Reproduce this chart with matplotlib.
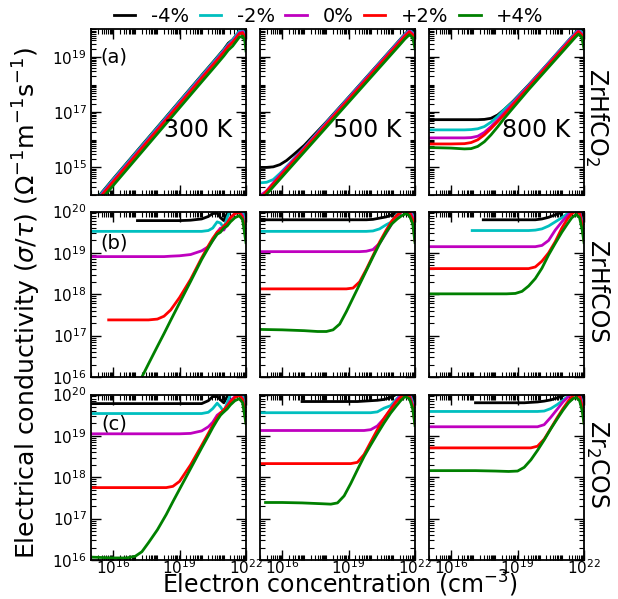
import numpy as np
import matplotlib
matplotlib.use("Agg")
import matplotlib.pyplot as plt
from matplotlib.ticker import FixedLocator, LogLocator, NullFormatter

nan = np.nan

# strain labels and line colours (one curve per strain)
strains = ['-4%', '-2%', '0%', '+2%', '+4%']
colors = ['k', 'c', 'm', 'r', 'g']

# ---- ZrHfCO2 : log10(n) grid and log10(sigma/tau) per strain ----
logn_CO2_300 = [15.0, 16.0, 17.0, 18.0, 19.0, 20.0, 20.6, 21.0, 21.2, 21.4, 21.55, 21.7, 21.85, 21.95, 22.0]
sig_CO2_300 = [
    [13.62, 14.58, 15.52, 16.46, 17.40, 18.34, 18.90, 19.28, 19.50, 19.63, 19.78, 19.92, 19.96, 19.80, 19.50],
    [13.60, 14.56, 15.50, 16.44, 17.38, 18.32, 18.88, 19.26, 19.46, 19.62, 19.78, 19.94, 19.98, 19.82, 19.55],
    [13.56, 14.51, 15.45, 16.39, 17.33, 18.27, 18.83, 19.21, 19.42, 19.57, 19.72, 19.88, 19.92, 19.75, 19.45],
    [13.52, 14.47, 15.41, 16.35, 17.29, 18.23, 18.79, 19.17, 19.38, 19.53, 19.68, 19.84, 19.88, 19.70, 19.40],
    [13.40, 14.34, 15.28, 16.22, 17.16, 18.10, 18.66, 19.04, 19.25, 19.40, 19.56, 19.72, 19.76, 19.58, 19.22],
]

logn_CO2_500 = [15.0, 15.3, 15.6, 15.9, 16.2, 16.5, 17.0, 18.0, 19.0, 20.0, 20.6, 21.0, 21.3, 21.55, 21.75, 21.9, 22.0]
sig_CO2_500 = [
    [15.00, 15.00, 15.02, 15.10, 15.25, 15.45, 15.80, 16.65, 17.54, 18.44, 18.98, 19.34, 19.61, 19.84, 19.98, 19.88, 19.50],
    [14.44, 14.46, 14.56, 14.78, 15.03, 15.28, 15.72, 16.63, 17.53, 18.43, 18.97, 19.33, 19.60, 19.83, 19.99, 19.88, 19.50],
    [13.97, 14.15, 14.44, 14.72, 14.99, 15.26, 15.70, 16.60, 17.50, 18.40, 18.94, 19.30, 19.57, 19.80, 19.95, 19.84, 19.45],
    [13.86, 14.13, 14.40, 14.67, 14.94, 15.21, 15.66, 16.56, 17.46, 18.36, 18.90, 19.26, 19.53, 19.76, 19.91, 19.80, 19.40],
    [13.76, 14.03, 14.30, 14.57, 14.84, 15.11, 15.56, 16.46, 17.36, 18.26, 18.80, 19.16, 19.43, 19.66, 19.81, 19.70, 19.30],
]

logn_CO2_800 = [15.0, 16.0, 16.6, 16.9, 17.2, 17.5, 17.8, 18.1, 18.4, 18.8, 19.5, 20.3, 21.0, 21.4, 21.6, 21.75, 21.9, 22.0]
sig_CO2_800 = [
    [16.73, 16.73, 16.73, 16.73, 16.73, 16.74, 16.78, 16.90, 17.10, 17.40, 17.99, 18.70, 19.33, 19.69, 19.87, 19.99, 19.88, 19.50],
    [16.36, 16.36, 16.36, 16.37, 16.40, 16.48, 16.64, 16.85, 17.10, 17.38, 17.98, 18.70, 19.33, 19.69, 19.87, 20.00, 19.90, 19.50],
    [16.07, 16.07, 16.07, 16.08, 16.13, 16.27, 16.48, 16.72, 16.98, 17.33, 17.95, 18.67, 19.30, 19.66, 19.84, 19.96, 19.84, 19.45],
    [15.85, 15.85, 15.86, 15.90, 16.00, 16.18, 16.41, 16.66, 16.92, 17.28, 17.91, 18.63, 19.26, 19.62, 19.80, 19.92, 19.80, 19.40],
    [15.72, 15.70, 15.67, 15.68, 15.76, 15.93, 16.18, 16.47, 16.78, 17.16, 17.82, 18.54, 19.17, 19.53, 19.71, 19.83, 19.72, 19.30],
]

# ---- ZrHfCOS ----
logn_COS_300 = [15.0, 15.8, 16.5, 17.1, 17.3, 17.6, 18.0, 18.3, 18.6, 19.0, 19.5, 20.0, 20.3, 20.5, 20.7, 20.85, 21.0, 21.15, 21.3, 21.5, 21.7, 21.85, 22.0]
sig_COS_300 = [
    [nan, nan, nan, 19.78, 19.78, 19.78, 19.78, 19.78, 19.78, 19.78, 19.79, 19.82, 19.88, 19.95, 19.96, 19.85, 19.78, 19.95, 20.10, 20.20, 20.20, 20.05, 19.45],
    [19.52, 19.52, 19.52, 19.52, 19.52, 19.52, 19.52, 19.52, 19.52, 19.52, 19.52, 19.52, 19.54, 19.60, 19.75, 19.72, 19.60, 19.85, 20.05, 20.15, 20.20, 20.05, 19.45],
    [18.91, 18.91, 18.91, 18.91, 18.91, 18.91, 18.91, 18.91, 18.92, 18.93, 18.96, 19.05, 19.15, 19.30, 19.50, 19.60, 19.55, 19.70, 19.85, 19.95, 20.00, 19.90, 19.40],
    [nan, 17.38, 17.38, 17.38, 17.38, 17.38, 17.40, 17.47, 17.62, 17.92, 18.36, 18.88, 19.17, 19.35, 19.50, 19.55, 19.65, 19.72, 19.85, 19.95, 19.98, 19.85, 19.35],
    [13.50, 14.35, 15.10, 15.75, 16.00, 16.32, 16.74, 17.05, 17.37, 17.79, 18.31, 18.84, 19.12, 19.30, 19.45, 19.50, 19.60, 19.65, 19.75, 19.85, 19.90, 19.80, 19.25],
]

logn_COS_500 = [15.0, 16.0, 17.0, 17.6, 18.0, 18.3, 18.6, 18.9, 19.2, 19.5, 19.8, 20.1, 20.4, 20.7, 20.95, 21.2, 21.4, 21.6, 21.75, 21.9, 22.0]
sig_COS_500 = [
    [19.80, 19.80, 19.80, 19.80, 19.80, 19.80, 19.80, 19.80, 19.80, 19.80, 19.80, 19.81, 19.84, 19.87, 19.92, 19.98, 20.10, 20.20, 20.15, 19.95, 19.40],
    [19.52, 19.52, 19.52, 19.52, 19.52, 19.52, 19.52, 19.52, 19.52, 19.52, 19.52, 19.53, 19.58, 19.68, 19.75, 19.95, 20.10, 20.15, 20.10, 19.90, 19.35],
    [19.03, 19.03, 19.03, 19.03, 19.03, 19.03, 19.03, 19.03, 19.03, 19.03, 19.04, 19.08, 19.23, 19.48, 19.70, 19.88, 20.00, 20.10, 20.05, 19.85, 19.30],
    [18.13, 18.13, 18.13, 18.13, 18.13, 18.13, 18.13, 18.13, 18.15, 18.30, 18.60, 18.93, 19.26, 19.55, 19.77, 19.92, 20.00, 20.02, 19.98, 19.80, 19.30],
    [17.15, 17.14, 17.12, 17.10, 17.10, 17.14, 17.28, 17.58, 17.91, 18.24, 18.57, 18.90, 19.22, 19.50, 19.70, 19.82, 19.90, 19.95, 19.90, 19.70, 19.25],
]

logn_COS_800 = [15.0, 16.0, 16.95, 17.45, 18.0, 18.5, 18.9, 19.2, 19.5, 19.8, 20.1, 20.4, 20.7, 21.0, 21.25, 21.45, 21.65, 21.8, 21.92, 22.0]
sig_COS_800 = [
    [nan, nan, nan, 19.80, 19.80, 19.80, 19.80, 19.80, 19.80, 19.80, 19.82, 19.86, 19.92, 19.98, 20.05, 20.10, 20.15, 20.05, 19.80, 19.45],
    [nan, nan, 19.54, 19.54, 19.54, 19.54, 19.54, 19.54, 19.54, 19.55, 19.58, 19.65, 19.75, 19.85, 19.95, 20.05, 20.10, 20.00, 19.75, 19.40],
    [19.15, 19.15, 19.15, 19.15, 19.15, 19.15, 19.15, 19.15, 19.15, 19.15, 19.18, 19.30, 19.55, 19.75, 19.90, 20.00, 20.08, 20.00, 19.70, 19.35],
    [18.62, 18.62, 18.62, 18.62, 18.62, 18.62, 18.62, 18.62, 18.62, 18.66, 18.80, 19.00, 19.27, 19.60, 19.82, 19.95, 20.02, 19.95, 19.65, 19.30],
    [18.01, 18.01, 18.01, 18.01, 18.01, 18.01, 18.02, 18.07, 18.20, 18.38, 18.63, 18.95, 19.23, 19.50, 19.70, 19.85, 19.93, 19.85, 19.55, 19.25],
]

# ---- Zr2COS ----
logn_Zr2_300 = [15.0, 15.5, 16.0, 16.6, 17.0, 17.3, 17.6, 18.0, 18.4, 18.7, 19.0, 19.5, 20.0, 20.3, 20.5, 20.7, 20.85, 21.0, 21.15, 21.3, 21.5, 21.7, 21.85, 22.0]
sig_Zr2_300 = [
    [19.78, 19.78, 19.78, 19.78, 19.78, 19.78, 19.78, 19.78, 19.78, 19.78, 19.78, 19.78, 19.78, 19.85, 19.95, 19.95, 19.87, 19.80, 19.95, 20.10, 20.20, 20.20, 20.05, 19.45],
    [19.54, 19.54, 19.54, 19.54, 19.54, 19.54, 19.54, 19.54, 19.54, 19.54, 19.54, 19.54, 19.54, 19.57, 19.66, 19.79, 19.70, 19.58, 19.80, 20.00, 20.10, 20.10, 20.00, 19.40],
    [19.05, 19.05, 19.05, 19.05, 19.05, 19.05, 19.05, 19.05, 19.05, 19.05, 19.05, 19.06, 19.12, 19.22, 19.33, 19.50, 19.56, 19.60, 19.72, 19.85, 19.95, 20.00, 19.90, 19.35],
    [17.75, 17.75, 17.75, 17.75, 17.75, 17.75, 17.75, 17.75, 17.75, 17.78, 17.90, 18.30, 18.77, 19.06, 19.26, 19.44, 19.55, 19.63, 19.72, 19.82, 19.93, 19.98, 19.88, 19.35],
    [16.07, 16.06, 16.05, 16.05, 16.09, 16.20, 16.42, 16.73, 17.10, 17.41, 17.71, 18.21, 18.71, 19.00, 19.20, 19.38, 19.50, 19.58, 19.65, 19.75, 19.85, 19.90, 19.80, 19.30],
]

logn_Zr2_500 = [15.0, 15.25, 16.0, 16.9, 17.8, 18.2, 18.5, 18.8, 19.1, 19.4, 19.7, 20.0, 20.3, 20.6, 20.9, 21.15, 21.35, 21.55, 21.75, 21.9, 22.0]
sig_Zr2_500 = [
    [nan, nan, nan, 19.83, 19.83, 19.83, 19.83, 19.83, 19.83, 19.83, 19.84, 19.85, 19.86, 19.88, 19.93, 20.00, 20.10, 20.15, 20.10, 19.90, 19.45],
    [19.56, 19.56, 19.56, 19.56, 19.56, 19.56, 19.56, 19.56, 19.56, 19.56, 19.56, 19.56, 19.58, 19.67, 19.73, 19.88, 20.00, 20.10, 20.05, 19.80, 19.40],
    [19.13, 19.13, 19.13, 19.13, 19.13, 19.13, 19.13, 19.13, 19.13, 19.13, 19.13, 19.15, 19.24, 19.42, 19.64, 19.85, 19.98, 20.05, 20.00, 19.75, 19.35],
    [18.33, 18.33, 18.33, 18.33, 18.33, 18.33, 18.33, 18.33, 18.33, 18.36, 18.55, 18.85, 19.15, 19.42, 19.65, 19.82, 19.93, 20.00, 19.95, 19.70, 19.30],
    [nan, 17.39, 17.39, 17.38, 17.36, 17.35, 17.38, 17.55, 17.85, 18.18, 18.50, 18.78, 19.05, 19.31, 19.55, 19.72, 19.85, 19.95, 19.90, 19.65, 19.25],
]

logn_Zr2_800 = [15.0, 16.0, 17.1, 18.0, 18.6, 19.0, 19.3, 19.6, 19.9, 20.2, 20.5, 20.8, 21.05, 21.3, 21.5, 21.65, 21.8, 21.92, 22.0]
sig_Zr2_800 = [
    [nan, nan, 19.80, 19.80, 19.80, 19.80, 19.80, 19.81, 19.82, 19.84, 19.87, 19.92, 19.97, 20.05, 20.10, 20.12, 20.05, 19.85, 19.50],
    [19.59, 19.59, 19.59, 19.59, 19.59, 19.59, 19.59, 19.59, 19.59, 19.60, 19.66, 19.76, 19.86, 19.97, 20.05, 20.10, 20.02, 19.80, 19.45],
    [19.22, 19.22, 19.22, 19.22, 19.22, 19.22, 19.22, 19.22, 19.22, 19.27, 19.45, 19.65, 19.82, 19.95, 20.05, 20.08, 20.00, 19.75, 19.40],
    [18.71, 18.71, 18.71, 18.71, 18.71, 18.71, 18.71, 18.71, 18.75, 18.92, 19.18, 19.45, 19.66, 19.85, 19.97, 20.02, 19.95, 19.70, 19.35],
    [18.16, 18.16, 18.16, 18.15, 18.14, 18.15, 18.24, 18.42, 18.65, 18.90, 19.17, 19.42, 19.62, 19.80, 19.90, 19.93, 19.85, 19.60, 19.30],
]

panels = [
    [(logn_CO2_300, sig_CO2_300), (logn_CO2_500, sig_CO2_500), (logn_CO2_800, sig_CO2_800)],
    [(logn_COS_300, sig_COS_300), (logn_COS_500, sig_COS_500), (logn_COS_800, sig_COS_800)],
    [(logn_Zr2_300, sig_Zr2_300), (logn_Zr2_500, sig_Zr2_500), (logn_Zr2_800, sig_Zr2_800)],
]
temps = ['300 K', '500 K', '800 K']
materials = ['ZrHfCO$_2$', 'ZrHfCOS', 'Zr$_2$COS']
tags = ['(a)', '(b)', '(c)']
ylims = [(1e14, 1e20), (1e16, 1e20), (1e16, 1e20)]
yticks = [[1e15, 1e17, 1e19], [1e16, 1e17, 1e18, 1e19, 1e20], [1e16, 1e17, 1e18, 1e19, 1e20]]

fig = plt.figure(figsize=(6.18, 5.99), dpi=100)

lefts = [0.1472, 0.4207, 0.6942]
bottoms = [0.6745, 0.3706, 0.0651]
W, H = 0.2508, 0.2763

axes = []
for r in range(3):
    row = []
    for c in range(3):
        ax = fig.add_axes([lefts[c], bottoms[r], W, H])
        logn, sigs = panels[r][c]
        x = np.power(10.0, np.array(logn))
        for s, col, lab in zip(sigs, colors, strains):
            ax.plot(x, np.power(10.0, np.array(s)), color=col, lw=2, label=lab)
        ax.set_xscale('log')
        ax.set_yscale('log')
        ax.set_xlim(1e15, 1e22)
        ax.set_ylim(*ylims[r])

        ax.xaxis.set_major_locator(FixedLocator([1e16, 1e19, 1e22]))
        ax.xaxis.set_minor_locator(LogLocator(base=10, subs=np.arange(1, 10), numticks=100))
        ax.yaxis.set_major_locator(FixedLocator(yticks[r]))
        ax.yaxis.set_minor_locator(LogLocator(base=10, subs=np.arange(1, 10), numticks=100))
        ax.xaxis.set_minor_formatter(NullFormatter())
        ax.yaxis.set_minor_formatter(NullFormatter())

        ax.tick_params(which='both', direction='in', top=True, right=True)
        ax.tick_params(which='major', length=7, width=1)
        ax.tick_params(which='minor', length=3.5, width=0.8)
        ax.tick_params(axis='x', labelsize=11, pad=-1)
        ax.tick_params(axis='y', labelsize=11, pad=3)
        for sp in ax.spines.values():
            sp.set_linewidth(1.3)

        if c != 0:
            ax.set_yticklabels([])
        if r != 2:
            ax.set_xticklabels([])
        if r == 0:
            ax.text(0.69, 0.39, temps[c], transform=ax.transAxes, fontsize=17,
                    ha='center', va='center')
        if c == 0:
            ax.text(0.15, [0.833, 0.81, 0.824][r], tags[r], transform=ax.transAxes,
                    fontsize=14, ha='center', va='center')
        row.append(ax)
    axes.append(row)

# material names on the right
for name, yc in zip(materials, [117.5, 291.7, 464.0]):
    fig.text(596.7 / 618, 1 - yc / 599, name, rotation=270, fontsize=17,
             ha='center', va='center')

fig.text(27 / 618, 1 - 303 / 599,
         r'Electrical conductivity ($\sigma/\tau$) ($\Omega^{-1}$m$^{-1}$s$^{-1}$)',
         rotation=90, fontsize=18.2, ha='center', va='center')
fig.text(340 / 618, 1 - 593 / 599, 'Electron concentration (cm$^{-3}$)',
         fontsize=17, ha='center', va='baseline')

handles, labels = axes[0][0].get_legend_handles_labels()
fig.legend(handles, labels, loc='center', bbox_to_anchor=(0.532, 0.972), ncol=5,
           frameon=False, fontsize=14, handlelength=1.1, handletextpad=0.8,
           columnspacing=0.55, borderpad=0.2)

fig.savefig('out.png', dpi=100)
